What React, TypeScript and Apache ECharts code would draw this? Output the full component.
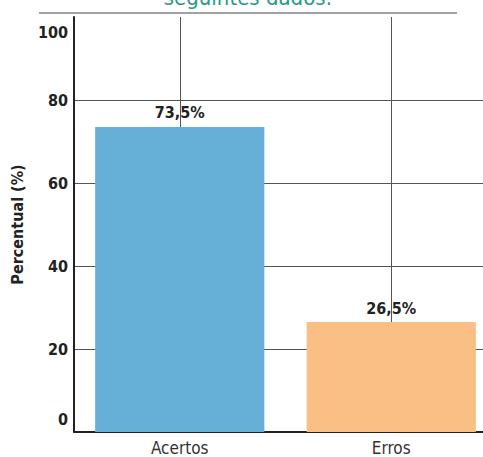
import React, { useEffect, useRef } from "react";
import * as echarts from "echarts";

const categories = ["Acertos", "Erros"];
const values = [73.5, 26.5];
const valueLabels = ["73,5%", "26,5%"];
const barColors = ["#66b0d7", "#f9bf85"];
const yTicks = [0, 20, 40, 60, 80, 100];
const titleText = "seguintes dados:";
const yAxisName = "Percentual (%)";

const FONT = "'DejaVu Sans Condensed', 'DejaVu Sans', sans-serif";

export default function App() {
  const ref = useRef<HTMLDivElement>(null);
  useEffect(() => {
    if (!ref.current) return;
    const chart = echarts.init(ref.current, undefined, { renderer: "svg" });
    chart.setOption({
      animation: false,
      backgroundColor: "#ffffff",
      grid: {
        left: 74,
        top: 17,
        width: 423,
        height: 415,
        containLabel: false,
        outerBoundsMode: "none",
      },
      graphic: [
        {
          type: "text",
          x: 248,
          y: 8,
          style: {
            text: titleText,
            align: "center",
            verticalAlign: "bottom",
            fill: "#2a9a89",
            font: `22px ${FONT}`,
          },
        },
        {
          type: "line",
          shape: { x1: 39, y1: 13, x2: 457, y2: 13 },
          style: { stroke: "#444", lineWidth: 1 },
        },
      ],
      xAxis: {
        type: "category",
        data: categories,
        axisLine: { show: true, lineStyle: { color: "#222", width: 2 } },
        axisTick: { show: false },
        axisLabel: {
          color: "#333",
          fontFamily: FONT,
          fontSize: 17,
          margin: 7,
        },
        splitLine: { show: false },
      },
      yAxis: {
        type: "value",
        min: 0,
        max: 100,
        interval: 20,
        name: yAxisName,
        nameLocation: "middle",
        nameGap: 49,
        nameTextStyle: {
          color: "#222",
          fontFamily: FONT,
          fontWeight: "bold",
          fontSize: 16,
        },
        axisLine: { show: true, lineStyle: { color: "#222", width: 2 } },
        axisTick: { show: false },
        axisLabel: {
          margin: 6,
          formatter: (v: number) => {
            if (!yTicks.includes(v)) return "";
            if (v === 100) return `{max|${v}}`;
            if (v === 0) return `{min|${v}}`;
            return `{n|${v}}`;
          },
          rich: {
            n: { color: "#222", fontFamily: FONT, fontWeight: "bold", fontSize: 16 },
            max: {
              color: "#222",
              fontFamily: FONT,
              fontWeight: "bold",
              fontSize: 16,
              padding: [30, 0, 0, 0],
            },
            min: {
              color: "#222",
              fontFamily: FONT,
              fontWeight: "bold",
              fontSize: 16,
              padding: [0, 0, 25, 0],
            },
          },
        },
        splitLine: {
          show: true,
          showMinLine: false,
          showMaxLine: false,
          lineStyle: { color: "#555", width: 1 },
        },
      },
      series: [
        {
          type: "bar",
          z: 3,
          barCategoryGap: "20%",
          data: values.map((v, i) => ({
            value: v,
            itemStyle: { color: barColors[i] },
            label: { formatter: valueLabels[i] },
          })),
          label: {
            show: true,
            position: "top",
            distance: 6,
            color: "#222",
            fontFamily: FONT,
            fontWeight: "bold",
            fontSize: 16,
          },
          markLine: {
            z: 1,
            silent: true,
            symbol: "none",
            label: { show: false },
            lineStyle: { color: "#555", width: 1, type: "solid" },
            data: categories.map((c) => ({ xAxis: c })),
          },
        },
      ],
    });
    return () => chart.dispose();
  }, []);
  return (
    <div
      ref={ref}
      style={{ position: "fixed", left: 0, top: 0, width: 483, height: 457 }}
    />
  );
}
